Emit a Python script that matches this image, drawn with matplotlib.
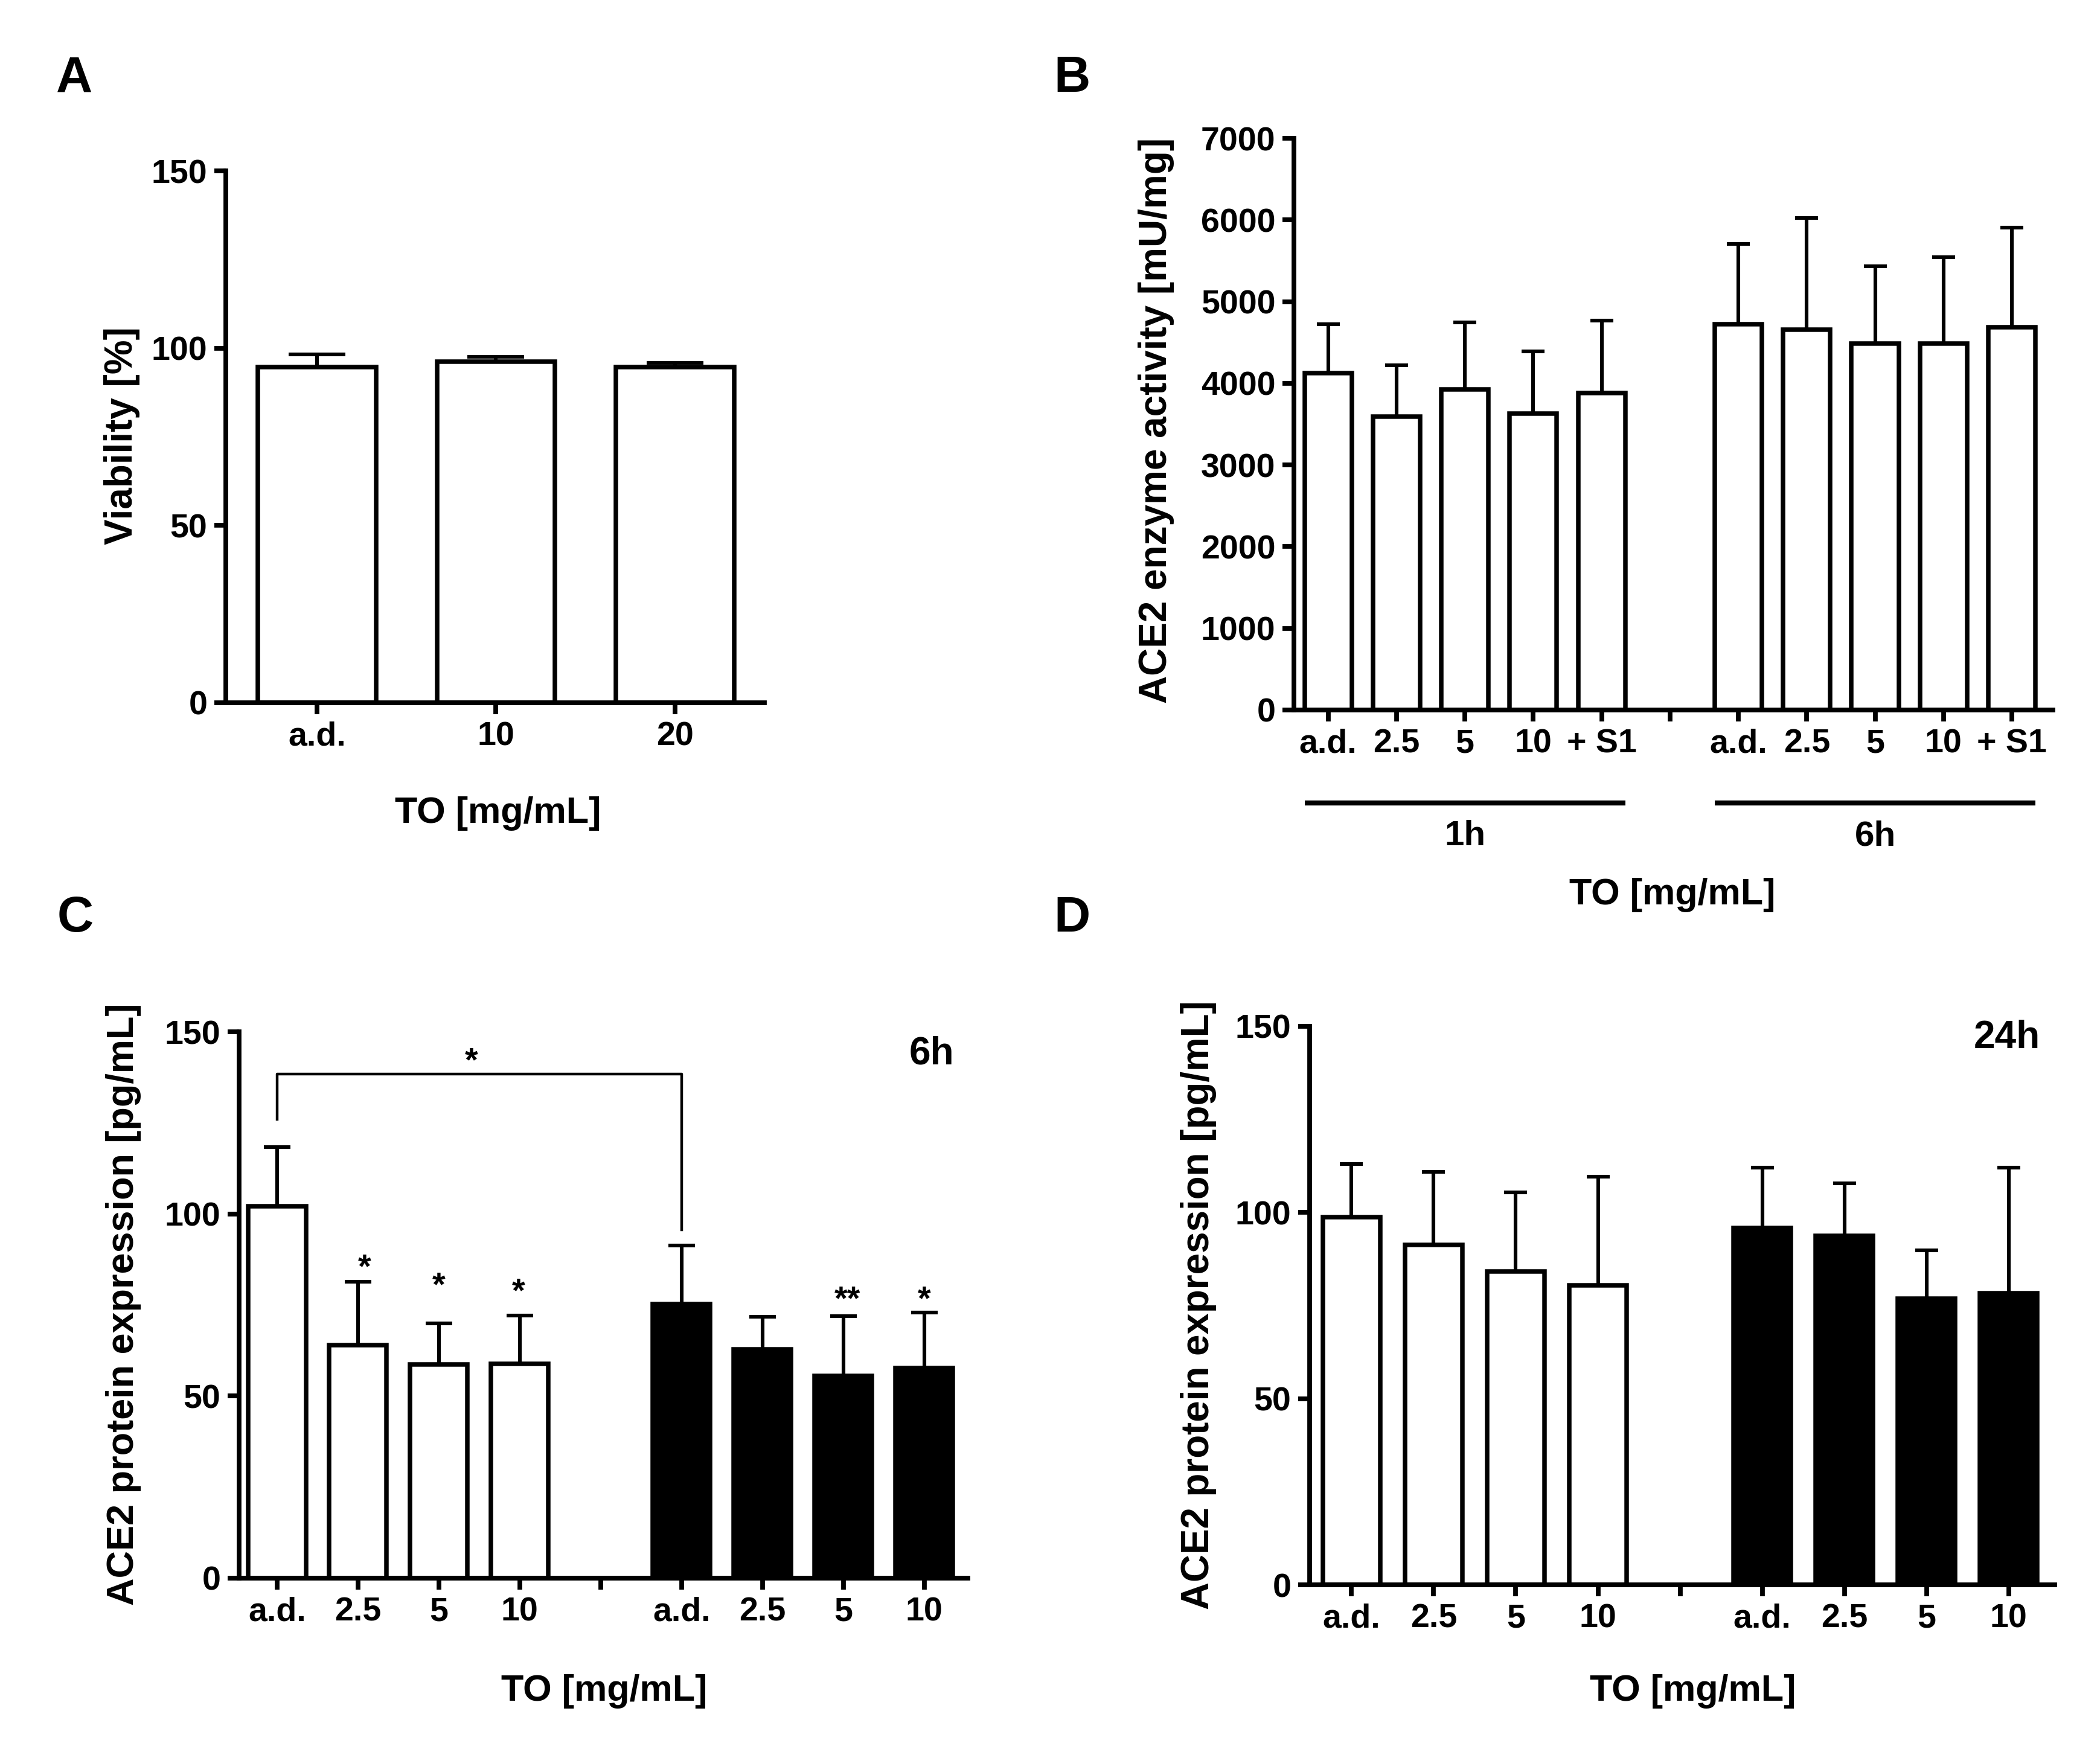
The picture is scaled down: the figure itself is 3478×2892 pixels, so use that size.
import numpy as np
import matplotlib.pyplot as plt
from matplotlib import font_manager
from matplotlib.transforms import blended_transform_factory

W, H = 3478, 2892
DPI = 200

plt.rcParams['font.family'] = ['Liberation Sans', 'DejaVu Sans']
plt.rcParams['font.weight'] = 'bold'

# tick numbers in the original look condensed
installed = {f.name for f in font_manager.fontManager.ttflist}
if 'Liberation Sans Narrow' in installed:
    TICK_FONT, TICK_SIZE = 'Liberation Sans Narrow', 23
else:
    TICK_FONT, TICK_SIZE = 'Liberation Sans', 20

# panel A - viability
a_labels = ['a.d.', '10', '20']
a_mean = [94.6, 96.2, 94.6]
a_sd = [3.6, 1.4, 1.3]

# panel B - ACE2 activity, 1h and 6h
b_labels = ['a.d.', '2.5', '5', '10', '+ S1']
b_1h_mean = [4126, 3593, 3927, 3628, 3884]
b_1h_sd = [598, 626, 818, 761, 882]
b_6h_mean = [4724, 4660, 4489, 4489, 4688]
b_6h_sd = [981, 1366, 946, 1053, 1217]

# panel C - protein expression 6h
c_labels = ['a.d.', '2.5', '5', '10']
c_white_mean = [102.1, 64.0, 58.6, 58.8]
c_white_sd = [16.2, 17.4, 11.4, 13.3]
c_black_mean = [75.3, 62.8, 55.5, 57.6]
c_black_sd = [16.1, 9.0, 16.5, 15.4]
c_stars = ['', '*', '*', '*', '', '**', '*']
c_star_x = [0, 1.08, 2.0, 2.98, 5, 7.05, 8.0]
c_star_y = [0, 88.0, 83.0, 81.4, 0, 79.2, 79.2]

# panel D - protein expression 24h
d_labels = ['a.d.', '2.5', '5', '10']
d_white_mean = [98.7, 91.3, 84.1, 80.4]
d_white_sd = [14.3, 19.6, 21.3, 29.2]
d_black_mean = [95.8, 93.7, 76.9, 78.4]
d_black_sd = [16.3, 14.2, 12.9, 33.7]


def px_axes(fig, x0, x1, ytop, ybot):
    return fig.add_axes([x0 / W, 1 - ybot / H, (x1 - x0) / W, (ybot - ytop) / H])


def ftext(fig, x, y, s, **kw):
    fig.text(x / W, 1 - y / H, s, ha='center', va='center', fontweight='bold', **kw)


def style(ax):
    for s in ['top', 'right']:
        ax.spines[s].set_visible(False)
    for s in ['left', 'bottom']:
        ax.spines[s].set_linewidth(2.8)
    ax.tick_params(direction='out', length=7, width=2.8, labelsize=TICK_SIZE)
    ax.tick_params(axis='x', pad=4)
    ax.tick_params(axis='y', pad=4)
    for lab in ax.get_xticklabels() + ax.get_yticklabels():
        lab.set_family([TICK_FONT, 'DejaVu Sans'])
        lab.set_fontweight('bold')


def bars(ax, x, mean, sd, face, width, cap):
    ax.bar(x, mean, width, color=face, edgecolor='black', linewidth=2.7, zorder=2)
    ax.errorbar(x, mean, yerr=[np.zeros(len(sd)), sd], fmt='none', ecolor='black',
                elinewidth=2.2, capsize=cap, capthick=2.2, zorder=1)


fig = plt.figure(figsize=(W / DPI, H / DPI), dpi=DPI)

# ---- A
ax = px_axes(fig, 374, 1266, 283, 1164)
xa = np.arange(len(a_labels))
bars(ax, xa, a_mean, a_sd, 'white', 0.66, 17)
ax.set_xlim(-0.51, 2.5)
ax.set_ylim(0, 150)
ax.set_yticks([0, 50, 100, 150])
ax.set_xticks(xa)
ax.set_xticklabels(a_labels)
style(ax)
ftext(fig, 825, 1347, 'TO [mg/mL]', fontsize=22)
ftext(fig, 202, 722, 'Viability [%]', fontsize=23, rotation=90)
ftext(fig, 123, 130, 'A', fontsize=30)

# ---- B
ax = px_axes(fig, 2143, 3400, 229, 1176)
x1 = np.arange(5)
x6 = np.arange(5) + 6
bars(ax, x1, b_1h_mean, b_1h_sd, 'white', 0.69, 7)
bars(ax, x6, b_6h_mean, b_6h_sd, 'white', 0.69, 7)
ax.set_xlim(-0.5, 10.6)
ax.set_ylim(0, 7000)
ax.set_yticks(np.arange(0, 7001, 1000))
ax.set_xticks(list(x1) + [5] + list(x6))
ax.set_xticklabels(b_labels + [''] + b_labels)
style(ax)
tr = blended_transform_factory(ax.transData, ax.transAxes)
for xs, name in [(x1, '1h'), (x6, '6h')]:
    ax.plot([xs[0] - 0.345, xs[-1] + 0.345], [-0.163, -0.163], color='black',
            lw=3, transform=tr, clip_on=False, solid_capstyle='butt')
    ax.text((xs[0] + xs[-1]) / 2, -0.221, name, transform=tr, ha='center',
            va='center', fontsize=21, fontweight='bold')
ftext(fig, 2770, 1483, 'TO [mg/mL]', fontsize=22)
ftext(fig, 1915, 696, 'ACE2 enzyme activity [mU/mg]', fontsize=23, rotation=90)
ftext(fig, 1776, 130, 'B', fontsize=30)

# ---- C
ax = px_axes(fig, 396, 1603, 1709, 2614)
xw = np.arange(4)
xb = np.arange(4) + 5
bars(ax, xw, c_white_mean, c_white_sd, 'white', 0.71, 8)
bars(ax, xb, c_black_mean, c_black_sd, 'black', 0.71, 8)
ax.set_xlim(-0.47, 8.54)
ax.set_ylim(0, 150)
ax.set_yticks([0, 50, 100, 150])
ax.set_xticks(list(xw) + [4] + list(xb))
ax.set_xticklabels(c_labels + [''] + c_labels)
style(ax)
for s, sx, sy in zip(c_stars, c_star_x, c_star_y):
    if s:
        ax.text(sx, sy - 5.3, s, ha='center', va='baseline', fontsize=20, fontweight='bold')
ax.plot([0, 0, 5, 5], [126, 138.4, 138.4, 95.7], color='black', lw=1.6, clip_on=False)
ax.text(2.4, 144.6 - 5.3, '*', ha='center', va='baseline', fontsize=20, fontweight='bold')
ax.text(0.95, 0.96, '6h', transform=ax.transAxes, ha='center', va='center',
        fontsize=23, fontweight='bold')
ftext(fig, 1001, 2801, 'TO [mg/mL]', fontsize=22)
ftext(fig, 205, 2160, 'ACE2 protein expression [pg/mL]', fontsize=22.7, rotation=90)
ftext(fig, 125, 1521, 'C', fontsize=30)

# ---- D
ax = px_axes(fig, 2169, 3403, 1700, 2625)
bars(ax, xw, d_white_mean, d_white_sd, 'white', 0.70, 7)
bars(ax, xb, d_black_mean, d_black_sd, 'black', 0.70, 7)
ax.set_xlim(-0.51, 8.56)
ax.set_ylim(0, 150)
ax.set_yticks([0, 50, 100, 150])
ax.set_xticks(list(xw) + [4] + list(xb))
ax.set_xticklabels(d_labels + [''] + d_labels)
style(ax)
ax.text(0.936, 0.98, '24h', transform=ax.transAxes, ha='center', va='center',
        fontsize=23, fontweight='bold')
ftext(fig, 2804, 2801, 'TO [mg/mL]', fontsize=22)
ftext(fig, 1985, 2162, 'ACE2 protein expression [pg/mL]', fontsize=22.9, rotation=90)
ftext(fig, 1776, 1521, 'D', fontsize=30)

fig.savefig('out.png', dpi=DPI, facecolor='white')
